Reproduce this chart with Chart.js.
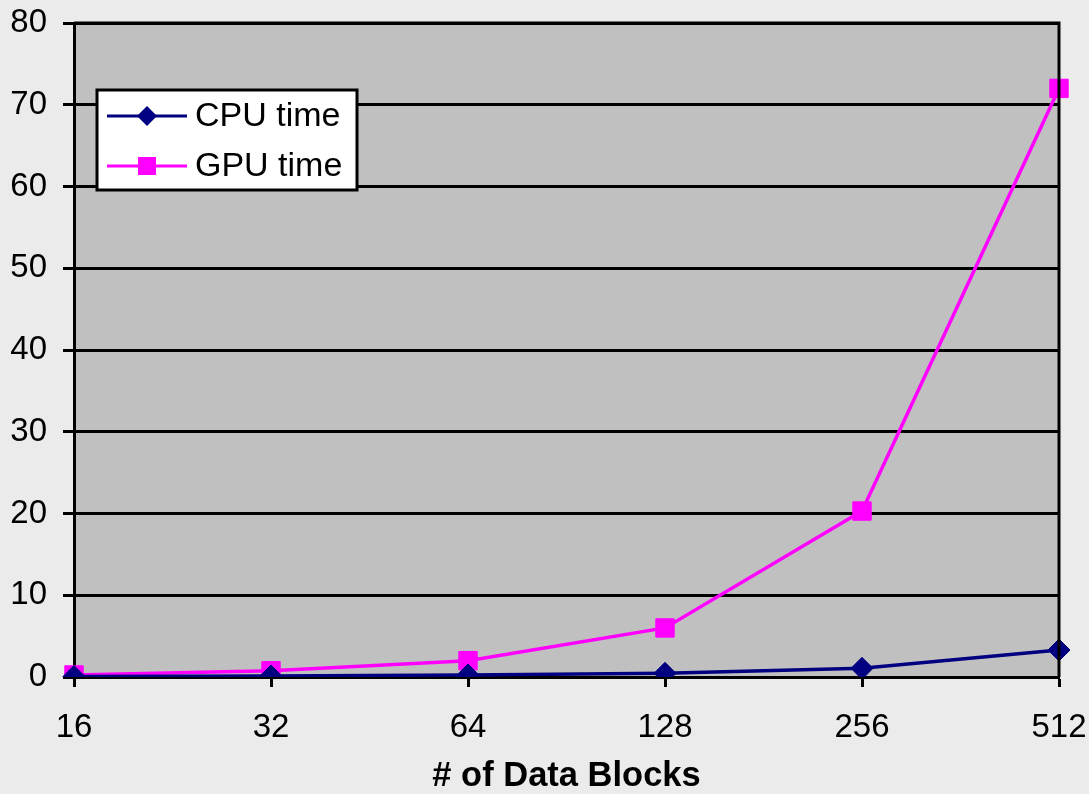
<!DOCTYPE html>
<html>
<head>
<meta charset="utf-8">
<script src="https://cdn.jsdelivr.net/npm/chart.js@4/dist/chart.umd.min.js"></script>
<style>
    html, body { margin: 0; padding: 0; background: #ebebeb; overflow: hidden; }
    #wrap { width: 1089px; height: 794px; position: relative; }
    canvas { display: block; }
</style>
</head>
<body>
<div id="wrap"><canvas id="chart"></canvas></div>
<script>
const blocks = ["16", "32", "64", "128", "256", "512"];
const cpuTime = [0.06, 0.12, 0.25, 0.45, 1.06, 3.3];
const gpuTime = [0.25, 0.77, 2.0, 6.0, 20.3, 72.0];
const yTicks = [0, 10, 20, 30, 40, 50, 60, 70, 80];

const FONT = "Arial, 'Liberation Sans', sans-serif";

// grey plot area + black frame on top/right
const plotBg = {
    id: "plotBg",
    beforeDraw(chart) {
        const a = chart.chartArea, ctx = chart.ctx;
        ctx.save();
        ctx.fillStyle = "#c0c0c0";
        ctx.fillRect(a.left, a.top, a.right - a.left, a.bottom - a.top);
        ctx.restore();
    },
    afterDatasetsDraw(chart) {
        const a = chart.chartArea, ctx = chart.ctx;
        ctx.save();
        ctx.strokeStyle = "#000";
        ctx.lineWidth = 3;
        ctx.beginPath();
        ctx.moveTo(a.left, a.top);
        ctx.lineTo(a.right, a.top);
        ctx.lineTo(a.right, a.bottom);
        ctx.stroke();
        ctx.restore();
    }
};

// legend box inside the plot area
const boxLegend = {
    id: "boxLegend",
    afterDraw(chart) {
        const ctx = chart.ctx;
        const x = 97, y = 90, w = 260, h = 100;
        ctx.save();
        ctx.fillStyle = "#fff";
        ctx.fillRect(x, y, w, h);
        ctx.strokeStyle = "#000";
        ctx.lineWidth = 3;
        ctx.strokeRect(x, y, w, h);
        chart.data.datasets.forEach((ds, i) => {
            const cy = y + 26 + i * 50;
            ctx.strokeStyle = ds.borderColor;
            ctx.lineWidth = 3;
            ctx.beginPath();
            ctx.moveTo(x + 10, cy);
            ctx.lineTo(x + 90, cy);
            ctx.stroke();
            ctx.fillStyle = ds.backgroundColor;
            ctx.beginPath();
            if (ds.pointStyle === "rect") {
                ctx.rect(x + 50 - 9, cy - 9, 18, 18);
            } else {
                ctx.moveTo(x + 50 - 10, cy);
                ctx.lineTo(x + 50, cy - 10);
                ctx.lineTo(x + 50 + 10, cy);
                ctx.lineTo(x + 50, cy + 10);
                ctx.closePath();
            }
            ctx.fill();
            ctx.fillStyle = "#000";
            ctx.font = "34px " + FONT;
            ctx.textBaseline = "middle";
            ctx.fillText(ds.label, x + 98, cy + 1);
        });
        ctx.restore();
    }
};

function noOverflow(scale) {
    scale.paddingLeft = 0;
    scale.paddingRight = 0;
    scale.paddingTop = 0;
    scale.paddingBottom = 0;
}

new Chart(document.getElementById("chart"), {
    type: "line",
    data: {
        labels: blocks,
        datasets: [{
            label: "CPU time",
            data: cpuTime,
            borderColor: "#000080",
            backgroundColor: "#000080",
            borderWidth: 3.5,
            pointStyle: "rectRot",
            pointRadius: 11,
            pointBorderWidth: 1,
            tension: 0
        }, {
            label: "GPU time",
            data: gpuTime,
            borderColor: "#ff00ff",
            backgroundColor: "#ff00ff",
            borderWidth: 3.5,
            pointStyle: "rect",
            pointRadius: 13,
            pointBorderWidth: 1,
            tension: 0
        }]
    },
    options: {
        responsive: true,
        maintainAspectRatio: false,
        animation: false,
        layout: { padding: { top: 23, right: 30, left: 0, bottom: 0 } },
        plugins: {
            legend: { display: false },
            tooltip: { enabled: false }
        },
        scales: {
            x: {
                offset: false,
                grid: {
                    drawOnChartArea: false,
                    drawTicks: true,
                    tickLength: 10,
                    tickWidth: 3,
                    tickColor: "#000"
                },
                border: { color: "#000", width: 3 },
                ticks: {
                    color: "#000",
                    font: { family: FONT, size: 33 },
                    padding: 21,
                    maxRotation: 0,
                    autoSkip: false
                },
                title: {
                    display: true,
                    text: "# of Data Blocks",
                    color: "#000",
                    font: { family: FONT, size: 34.5, weight: "bold", lineHeight: 1.0 },
                    padding: { top: 0, bottom: 0 }
                },
                afterFit(scale) {
                    scale.height = 117;
                    noOverflow(scale);
                }
            },
            y: {
                min: 0,
                max: 80,
                afterBuildTicks(scale) {
                    scale.ticks = yTicks.map(v => ({ value: v }));
                },
                grid: {
                    color: "#000",
                    lineWidth: 3,
                    drawTicks: true,
                    tickLength: 11,
                    tickColor: "#000"
                },
                border: { color: "#000", width: 3 },
                ticks: {
                    color: "#000",
                    font: { family: FONT, size: 33 },
                    padding: 16
                },
                afterFit(scale) {
                    scale.width = 74;
                    noOverflow(scale);
                }
            }
        }
    },
    plugins: [plotBg, boxLegend]
});
</script>
</body>
</html>
